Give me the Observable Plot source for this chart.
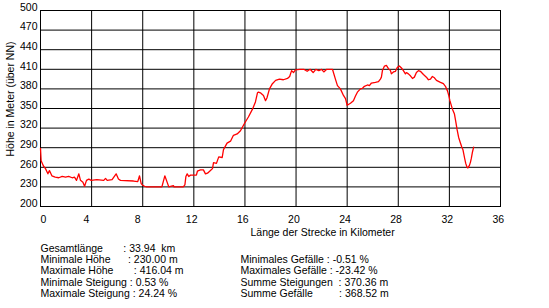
<!DOCTYPE html>
<html><head><meta charset="utf-8">
<script src="https://cdn.jsdelivr.net/npm/d3@7"></script>
<script src="https://cdn.jsdelivr.net/npm/@observablehq/plot@0.6"></script>
<style>
html,body{margin:0;padding:0;background:#fff;}
svg text{white-space:pre;}
</style></head><body><div id="chart"></div>
<script>
const km = [0.00,0.05,0.23,0.39,0.58,0.70,0.89,1.15,1.43,1.70,1.96,2.20,2.48,2.66,2.82,3.00,3.13,3.32,3.45,3.60,3.78,3.97,4.41,4.95,5.09,5.22,5.60,5.92,6.10,6.26,7.28,7.61,7.75,7.88,7.98,8.14,8.30,9.50,9.73,10.04,10.40,10.45,11.17,11.30,11.38,11.48,11.60,11.74,12.20,12.28,12.52,12.75,12.91,13.07,13.30,13.46,13.54,13.77,13.95,14.22,14.32,14.60,14.87,15.10,15.39,15.65,15.96,16.27,16.59,16.82,16.98,17.06,17.21,17.45,17.61,17.72,17.92,18.15,18.40,18.70,19.01,19.33,19.50,19.65,19.80,19.95,20.30,20.60,20.87,21.10,21.34,21.55,21.78,22.00,22.17,22.40,22.85,23.08,23.24,23.47,23.71,23.87,24.00,24.26,24.49,24.65,24.80,25.04,25.20,25.35,25.59,25.74,25.90,26.21,26.45,26.60,26.68,26.76,26.92,27.07,27.23,27.39,27.46,27.62,27.78,27.93,28.09,28.25,28.40,28.56,28.64,28.79,28.95,29.11,29.26,29.42,29.58,29.73,29.97,30.20,30.36,30.52,30.67,30.83,30.99,31.30,31.53,31.69,31.85,31.95,32.04,32.16,32.24,32.39,32.50,32.60,32.72,32.85,32.97,33.06,33.18,33.28,33.38,33.45,33.57,33.65,33.72,33.80,33.90];
const elevation = [289,270,262,258,250,255,247,245,244,246,245,246,244,245,240,250,240,237,231,240,242,240,241,240,243,240,241,250,242,240,239,238,247,235,233,231,230,230,247,230,232,230,230,233,246,250,246,248,248,254,256,256,250,251,255,258,267,266,276,275,287,297,300,309,311,316,327,337,349,360,374,375,374,370,362,366,380,388,393,395,394,396,399,408,405,409,410,410,407,410,405,410,408,410,406,410,410,395,385,380,370,365,355,358,362,369,375,380,381,384,386,385,389,390,391,395,398,408,415,416,411,408,403,406,407,413,415,412,408,403,405,403,400,396,398,405,408,407,402,398,394,395,399,397,393,390,388,384,377,370,362,354,349,342,330,318,306,298,291,287,275,266,260,259,263,268,274,283,291];
const xTicks = [0,4,8,12,16,20,24,28,32,36];
const yTicks = [200,230,260,290,320,350,380,410,440,470,500];
const xLabel = "Länge der Strecke in Kilometer";
const yLabel = "Höhe in Meter (über NN)";
const statsLeft = [
  "Gesamtlänge       : 33.94  km",
  "Minimale Höhe      : 230.00 m",
  "Maximale Höhe       : 416.04 m",
  "Minimale Steigung : 0.53 %",
  "Maximale Steigung : 24.24 %"
];
const statsRight = [
  " ",
  "Minimales Gefälle : -0.51 %",
  "Maximales Gefälle : -23.42 %",
  "Summe Steigungen  : 370.36 m",
  "Summe Gefälle         : 368.52 m"
];

const profile = km.map((k, i) => ({km: k, h: elevation[i]}));

const chart = Plot.plot({
  width: 549, height: 308,
  marginLeft: 40, marginRight: 49, marginTop: 10, marginBottom: 102,
  style: {fontFamily: "'Liberation Sans', Arial, sans-serif", fontSize: "10.5px", color: "#000", background: "#fff", overflow: "visible"},
  x: {domain: [0, 36]},
  y: {domain: [200, 500]},
  marks: [
    Plot.gridX(xTicks, {stroke: "#000", strokeOpacity: 1}),
    Plot.gridY(yTicks, {stroke: "#000", strokeOpacity: 1}),
    Plot.frame({stroke: "#000"}),
    Plot.line(profile, {x: "km", y: "h", stroke: "#ff0000", strokeWidth: 1.3}),
    Plot.axisY(yTicks, {tickSize: 0, tickPadding: 3, dy: -3, label: null}),
    Plot.axisX(xTicks.slice(0, 1), {tickSize: 0, tickPadding: 9, textAnchor: "start", label: null}),
    Plot.axisX(xTicks.slice(1), {tickSize: 0, tickPadding: 9, textAnchor: "start", dx: -8, label: null}),
    Plot.text([xLabel], {text: d => d, frameAnchor: "bottom-left", dx: 210, dy: 26, textAnchor: "start", lineAnchor: "middle"}),
    Plot.text([yLabel], {text: d => d, frameAnchor: "left", rotate: -90, dx: -29.5, dy: -9.5, textAnchor: "middle", lineAnchor: "middle"}),
    Plot.text([statsLeft.join("\n")], {text: d => d, frameAnchor: "bottom-left", dy: 37.5, lineAnchor: "top", textAnchor: "start", lineHeight: 1.07}),
    Plot.text([statsRight.join("\n")], {text: d => d, frameAnchor: "bottom-left", dx: 200, dy: 37.5, lineAnchor: "top", textAnchor: "start", lineHeight: 1.07})
  ]
});
document.getElementById("chart").appendChild(chart);
</script></body></html>
